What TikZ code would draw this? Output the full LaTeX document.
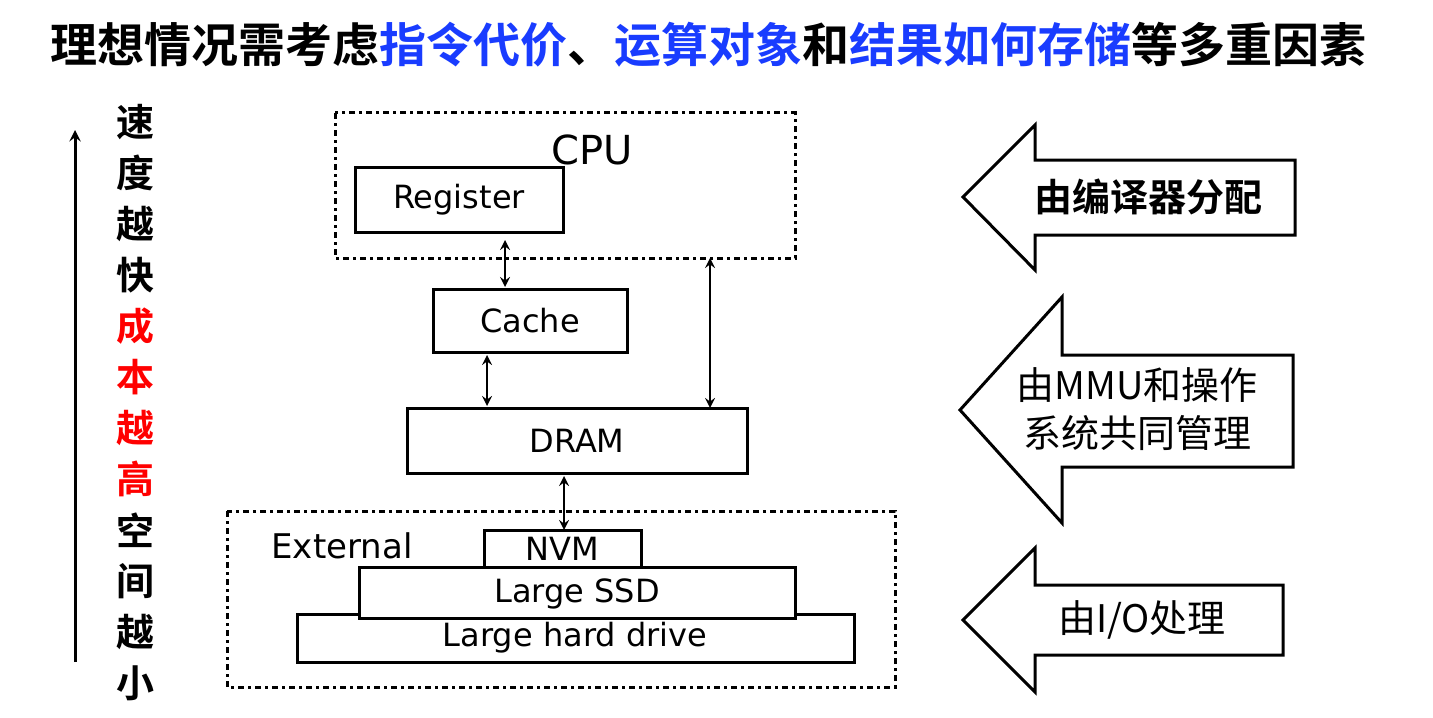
\documentclass[tikz,border=0pt]{standalone}
\usepackage{fontspec}
\setmainfont{DejaVu Sans}
\newfontfamily\cjk{Noto Sans CJK SC}
\newfontfamily\cjkb{Noto Sans CJK SC Bold}
\definecolor{tblue}{RGB}{25,60,255}
\begin{document}
\begin{tikzpicture}[x=0.5pt,y=-0.5pt,
  box/.style={draw,line width=1.5pt,inner sep=0},
  grp/.style={draw,line width=1.5pt,dash dot},
  dbl/.style={<->,>=stealth,line width=1.2pt},
  bigarrow/.style={draw,line width=1.5pt,fill=white},
  lat/.style={font=\fontsize{16}{18}\selectfont},
  vch/.style={font=\cjkb\fontsize{19}{20}\selectfont}]
\useasboundingbox (0,0) rectangle (1433,717);
\node[font=\cjkb\fontsize{23.5}{26}\selectfont] (title) at (708,45)
 {理想情况需考虑\textcolor{tblue}{指令代价}、\textcolor{tblue}{运算对象}和\textcolor{tblue}{结果如何存储}等多重因素};
% left speed arrow
\coordinate (la) at (75,662); \coordinate (lb) at (75,130);
\draw[->,>=stealth,line width=1.5pt] (la) -- (lb);
\foreach \c [count=\i] in {速,度,越,快}{\node[vch] (v\i) at (135,122+51*\i-51) {\c};}
\foreach \c [count=\i] in {成,本,越,高}{\node[vch,text=red] (r\i) at (135,326+51*\i-51) {\c};}
\foreach \c [count=\i] in {空,间,越,小}{\node[vch] (s\i) at (135,530+51*\i-51) {\c};}
% CPU
\draw[grp] (335,113) rectangle (795,258);
\node[font=\fontsize{20}{22}\selectfont] (cpu) at (592,150) {CPU};
\draw[box] (355,167) rectangle (563,232); \node[lat] (reg) at (459,200) {Register};
\draw[box] (433,289) rectangle (627,352); \node[lat] (cache) at (530,321) {Cache};
\draw[box] (407,408) rectangle (747,473); \node[lat] (dram) at (577,441) {DRAM};
% External
\draw[grp] (227,511) rectangle (895,687);
\node[font=\fontsize{17}{19}\selectfont] (ext) at (342,546) {External};
\draw[box,fill=white] (297,614) rectangle (854,662); \node[lat] (hdd) at (575,638) {Large hard drive};
\draw[box,fill=white] (359,567) rectangle (795,618); \node[lat] (ssd) at (577,594) {Large SSD};
\draw[box,fill=white] (484,530) rectangle (641,567); \node[lat] (nvm) at (562,549) {NVM};
% connectors
\coordinate (a1) at (505,240); \coordinate (a2) at (505,287);
\coordinate (b1) at (487,355); \coordinate (b2) at (487,406);
\coordinate (c1) at (710,258); \coordinate (c2) at (710,408);
\coordinate (d1) at (564,476); \coordinate (d2) at (564,530);
\draw[dbl] (a1) -- (a2); \draw[dbl] (b1) -- (b2);
\draw[dbl] (c1) -- (c2); \draw[dbl] (d1) -- (d2);
% right arrows
\draw[bigarrow] (963,197) -- (1035,125) -- (1035,160) -- (1295,160) -- (1295,235) -- (1035,235) -- (1035,270) -- cycle;
\node[font=\cjkb\fontsize{19}{20}\selectfont] (t1) at (1148,197) {由编译器分配};
\draw[bigarrow] (960,410) -- (1062,297) -- (1062,355) -- (1293,355) -- (1293,467) -- (1062,467) -- (1062,523) -- cycle;
\node[font=\cjk\fontsize{19}{20}\selectfont] (t2) at (1137,385) {由MMU和操作};
\node[font=\cjk\fontsize{19}{20}\selectfont] (t3) at (1137,433) {系统共同管理};
\draw[bigarrow] (963,620) -- (1035,548) -- (1035,585) -- (1283,585) -- (1283,655) -- (1035,655) -- (1035,692) -- cycle;
\node[font=\cjk\fontsize{19}{20}\selectfont] (t4) at (1142,620) {由I/O处理};
\end{tikzpicture}
\end{document}
